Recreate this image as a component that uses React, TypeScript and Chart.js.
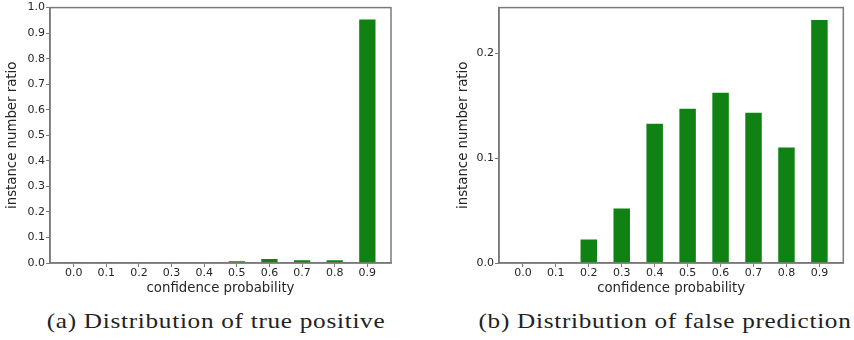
import React, { useEffect, useRef } from "react";
import { Chart, registerables } from "chart.js";

Chart.register(...registerables);

const categories = ["0.0", "0.1", "0.2", "0.3", "0.4", "0.5", "0.6", "0.7", "0.8", "0.9"];
const truePositive = [0.0003, 0.0003, 0.002, 0.002, 0.002, 0.0065, 0.0155, 0.0105, 0.0105, 0.953];
const falsePrediction = [0.0005, 0.0005, 0.0225, 0.052, 0.1328, 0.147, 0.1622, 0.1432, 0.110, 0.2317];
const leftYTicks = [0, 0.1, 0.2, 0.3, 0.4, 0.5, 0.6, 0.7, 0.8, 0.9, 1.0];
const rightYTicks = [0, 0.1, 0.2];
const captionA = "(a) Distribution of true positive";
const captionB = "(b) Distribution of false prediction";

const BAR = "rgb(16,130,20)";
const FRAME = "#7a7a7a";
const TEXT = "#262626";
const FONT = "'DejaVu Sans', sans-serif";

const framePlugin = {
  id: "frame",
  afterDatasetsDraw(chart: any) {
    const { ctx, chartArea } = chart;
    ctx.save();
    ctx.strokeStyle = FRAME;
    ctx.lineWidth = 1.5;
    ctx.strokeRect(chartArea.left, chartArea.top, chartArea.right - chartArea.left, chartArea.bottom - chartArea.top);
    ctx.restore();
  },
};

function makeConfig(values: number[], yTicks: number[], yMax: number, yAxisWidth: number, yTitlePad: number, padRight: number) {
  return {
    type: "bar" as const,
    data: {
      datasets: [
        {
          data: values.map((v, i) => ({ x: i, y: v })),
          backgroundColor: BAR,
          borderWidth: 0,
          categoryPercentage: 1,
          barPercentage: 0.5,
        },
      ],
    },
    options: {
      animation: false,
      responsive: false,
      maintainAspectRatio: false,
      layout: { padding: { top: 7, right: padRight, left: 0, bottom: 0 } },
      plugins: { legend: { display: false }, tooltip: { enabled: false } },
      scales: {
        x: {
          type: "linear",
          min: -0.725,
          max: 9.725,
          offset: false,
          afterBuildTicks: (s: any) => {
            s.ticks = categories.map((_, i) => ({ value: i }));
          },
          afterFit: (s: any) => {
            s.height = 37;
          },
          ticks: {
            callback: (v: any) => categories[Math.round(v)] ?? "",
            color: TEXT,
            font: { family: FONT, size: 11 },
            padding: 0,
            maxRotation: 0,
            autoSkip: false,
          },
          grid: { offset: false, drawOnChartArea: false, drawTicks: true, tickLength: 4, color: FRAME, tickWidth: 1 },
          border: { display: true, color: FRAME, width: 1.5 },
          title: {
            display: true,
            text: "confidence probability",
            color: TEXT,
            font: { family: FONT, size: 13.3 },
            padding: { top: 0, bottom: 3 },
          },
        },
        y: {
          min: 0,
          max: yMax,
          afterBuildTicks: (s: any) => {
            s.ticks = yTicks.map((v) => ({ value: v }));
          },
          afterFit: (s: any) => {
            s.width = yAxisWidth;
          },
          ticks: {
            callback: (v: any) => Number(v).toFixed(1),
            color: TEXT,
            font: { family: FONT, size: 11 },
            padding: 1,
          },
          grid: { drawOnChartArea: false, drawTicks: true, tickLength: 4, color: FRAME, tickWidth: 1 },
          border: { display: true, color: FRAME, width: 1.5 },
          title: {
            display: true,
            text: "instance number ratio",
            color: TEXT,
            font: { family: FONT, size: 13.3 },
            padding: { top: yTitlePad, bottom: 0 },
          },
        },
      },
    },
    plugins: [framePlugin],
  };
}

function BarPanel(props: { cfg: any; left: number; width: number }) {
  const ref = useRef<HTMLCanvasElement>(null);
  useEffect(() => {
    const chart = new Chart(ref.current as HTMLCanvasElement, props.cfg);
    return () => chart.destroy();
  }, []);
  return (
    <canvas
      ref={ref}
      width={props.width}
      height={300}
      style={{ position: "absolute", left: props.left, top: 0, width: props.width, height: 300 }}
    />
  );
}

const captionStyle: React.CSSProperties = {
  position: "absolute",
  top: 311,
  fontFamily: "'Liberation Serif', serif",
  fontSize: 21,
  letterSpacing: "0.6px",
  lineHeight: "20px",
  color: "#222",
  whiteSpace: "nowrap",
  transform: "translateX(-50%) scaleX(1.2)",
};

export default function App() {
  const leftCfg = makeConfig(truePositive, leftYTicks, 1.0, 50, 4.5, 9);
  const rightCfg = makeConfig(falsePrediction, rightYTicks, 0.2435, 59, 15.5, 10.7);
  return (
    <div style={{ position: "absolute", left: 0, top: 0, width: 854, height: 340, background: "#fff", overflow: "hidden" }}>
      <BarPanel cfg={leftCfg} left={0} width={400} />
      <BarPanel cfg={rightCfg} left={440} width={414} />
      <div style={{ ...captionStyle, left: 216 }}>{captionA}</div>
      <div style={{ ...captionStyle, left: 664.5 }}>{captionB}</div>
    </div>
  );
}
